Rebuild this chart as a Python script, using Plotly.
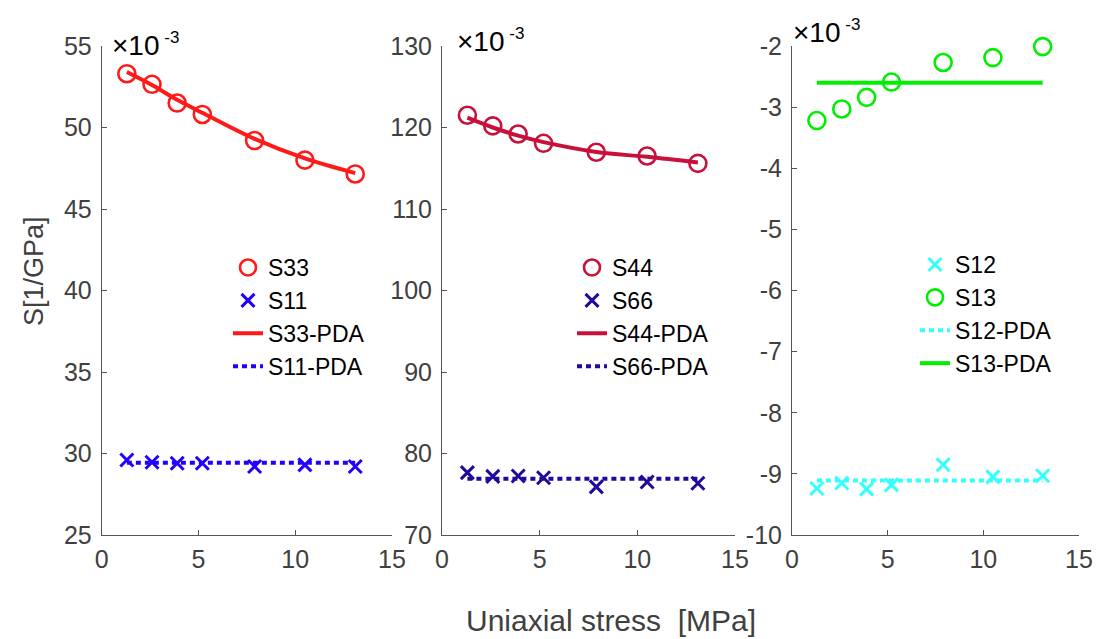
import plotly.graph_objects as go

# Uniaxial stress levels [MPa]
stress = [1.3, 2.6, 3.9, 5.2, 7.9, 10.5, 13.1]

# Compliance components (x 10^-3 1/GPa)
s33 = [53.3, 52.65, 51.5, 50.8, 49.2, 48.0, 47.15]
s33_pda = [53.4, 52.6, 51.7, 50.9, 49.3, 48.1, 47.2]
s11 = [29.6, 29.46, 29.4, 29.4, 29.2, 29.3, 29.2]
s11_pda = [29.44, 29.44, 29.44, 29.44, 29.44, 29.44, 29.44]

s44 = [121.5, 120.2, 119.2, 118.06, 116.96, 116.5, 115.6]
s44_pda = [121.2, 120.0, 119.0, 118.2, 117.0, 116.4, 115.7]
s66 = [77.65, 77.2, 77.24, 77.03, 75.9, 76.5, 76.35]
s66_pda = [76.9, 76.9, 76.9, 76.9, 76.9, 76.9, 76.9]

s12 = [-9.24, -9.15, -9.25, -9.18, -8.85, -9.05, -9.03]
s12_pda = [-9.11, -9.11, -9.11, -9.11, -9.11, -9.11, -9.11]
s13 = [-3.22, -3.03, -2.84, -2.59, -2.27, -2.19, -2.01]
s13_pda = [-2.6, -2.6, -2.6, -2.6, -2.6, -2.6, -2.6]

x_ticks = [0, 5, 10, 15]
y_ticks_1 = [25, 30, 35, 40, 45, 50, 55]
y_ticks_2 = [70, 80, 90, 100, 110, 120, 130]
y_ticks_3 = [-10, -9, -8, -7, -6, -5, -4, -3, -2]

RED = "#FF1A1A"
BLUE = "#2200FF"
CRIMSON = "#C8103A"
NAVY = "#1E0A9C"
CYAN = "#33FFFF"
GREEN = "#00EE00"

FONT = "Liberation Sans, Arial, sans-serif"
TICK_COLOR = "#404040"
DOT = "5px,4px"

fig = go.Figure()


def add_panel(idx, circ, circ_name, circ_color, cross, cross_name, cross_color,
              solid, solid_name, dotted, dotted_name, circle_first=True):
    xa = "x" if idx == 1 else f"x{idx}"
    ya = "y" if idx == 1 else f"y{idx}"
    lg = "legend" if idx == 1 else f"legend{idx}"
    circ_tr = go.Scatter(x=stress, y=circ, mode="markers", name=circ_name,
                         marker=dict(symbol="circle-open", size=17, color=circ_color,
                                     line=dict(width=2.6, color=circ_color)),
                         xaxis=xa, yaxis=ya, legend=lg, cliponaxis=False)
    cross_tr = go.Scatter(x=stress, y=cross, mode="markers", name=cross_name,
                          marker=dict(symbol="x-thin-open", size=13, color=cross_color,
                                      line=dict(width=3, color=cross_color)),
                          xaxis=xa, yaxis=ya, legend=lg, cliponaxis=False)
    solid_tr = go.Scatter(x=stress, y=solid, mode="lines", name=solid_name,
                          line=dict(color=circ_color, width=4, shape="spline"),
                          xaxis=xa, yaxis=ya, legend=lg)
    dotted_tr = go.Scatter(x=stress, y=dotted, mode="lines", name=dotted_name,
                           line=dict(color=cross_color, width=4, dash=DOT),
                           xaxis=xa, yaxis=ya, legend=lg)
    if circle_first:
        order = [circ_tr, cross_tr, solid_tr, dotted_tr]
    else:
        order = [cross_tr, circ_tr, dotted_tr, solid_tr]
    for i, tr in enumerate(order):
        tr.legendrank = i + 1
    # fits drawn first so the markers sit on top
    fig.add_trace(solid_tr)
    fig.add_trace(dotted_tr)
    fig.add_trace(circ_tr)
    fig.add_trace(cross_tr)


add_panel(1, s33, "S33", RED, s11, "S11", BLUE, s33_pda, "S33-PDA", s11_pda, "S11-PDA")
add_panel(2, s44, "S44", CRIMSON, s66, "S66", NAVY, s44_pda, "S44-PDA", s66_pda, "S66-PDA")
add_panel(3, s13, "S13", GREEN, s12, "S12", CYAN, s13_pda, "S13-PDA", s12_pda, "S12-PDA",
          circle_first=False)

W, H = 1099, 639
y_dom = [(H - 535) / H, (H - 46) / H]
x_doms = [[101.7 / W, 392 / W], [442 / W, 735 / W], [792 / W, 1079 / W]]
y_ranges = [[25, 55], [70, 130], [-10, -2]]
y_tick_sets = [y_ticks_1, y_ticks_2, y_ticks_3]

axis_common = dict(showline=True, linecolor="#555555", linewidth=1, mirror=False,
                   showgrid=False, zeroline=False, ticks="inside", ticklen=5,
                   tickcolor="#555555", automargin=False,
                   tickfont=dict(family=FONT, size=25, color=TICK_COLOR))

layout = dict(width=W, height=H, margin=dict(l=0, r=0, t=0, b=0, autoexpand=False),
              plot_bgcolor="white", paper_bgcolor="white", showlegend=True)

for i in range(3):
    sx = "" if i == 0 else str(i + 1)
    layout[f"xaxis{sx}"] = dict(domain=x_doms[i], range=[0, 15], tickvals=x_ticks,
                                ticktext=[str(v) for v in x_ticks],
                                anchor=f"y{sx}", ticklabelstandoff=2, **axis_common)
    yt = y_tick_sets[i]
    layout[f"yaxis{sx}"] = dict(domain=y_dom, range=y_ranges[i], tickvals=yt,
                                ticktext=[str(v) for v in yt],
                                anchor=f"x{sx}", ticklabelstandoff=4, **axis_common)

legend_common = dict(font=dict(family=FONT, size=23, color="black"),
                     bgcolor="rgba(0,0,0,0)", borderwidth=0, tracegroupgap=0,
                     itemwidth=30, xanchor="left", yanchor="top")
layout["legend"] = dict(x=228 / W, y=(H - 246) / H, **legend_common)
layout["legend2"] = dict(x=572 / W, y=(H - 246) / H, **legend_common)
layout["legend3"] = dict(x=915 / W, y=(H - 243) / H, **legend_common)

fig.update_layout(**layout)

# exponent labels above each axis
for xpx, ypx in [(110, 44), (455, 40), (791, 31)]:
    fig.add_annotation(xref="paper", yref="paper", x=xpx / W, y=(H - ypx) / H,
                       xanchor="left", yanchor="middle", showarrow=False,
                       text="×10<sup><span style='font-size:17px'> -3</span></sup>",
                       font=dict(family=FONT, size=28, color="black"))

fig.add_annotation(xref="paper", yref="paper", x=611 / W, y=(H - 620) / H,
                   xanchor="center", yanchor="middle", showarrow=False,
                   text="Uniaxial stress\u00a0 [MPa]",
                   font=dict(family=FONT, size=30, color=TICK_COLOR))
fig.add_annotation(xref="paper", yref="paper", x=34 / W, y=(H - 271) / H,
                   xanchor="center", yanchor="middle", showarrow=False, textangle=-90,
                   text="S[1/GPa]",
                   font=dict(family=FONT, size=27, color=TICK_COLOR))

fig.write_html("out.html")
